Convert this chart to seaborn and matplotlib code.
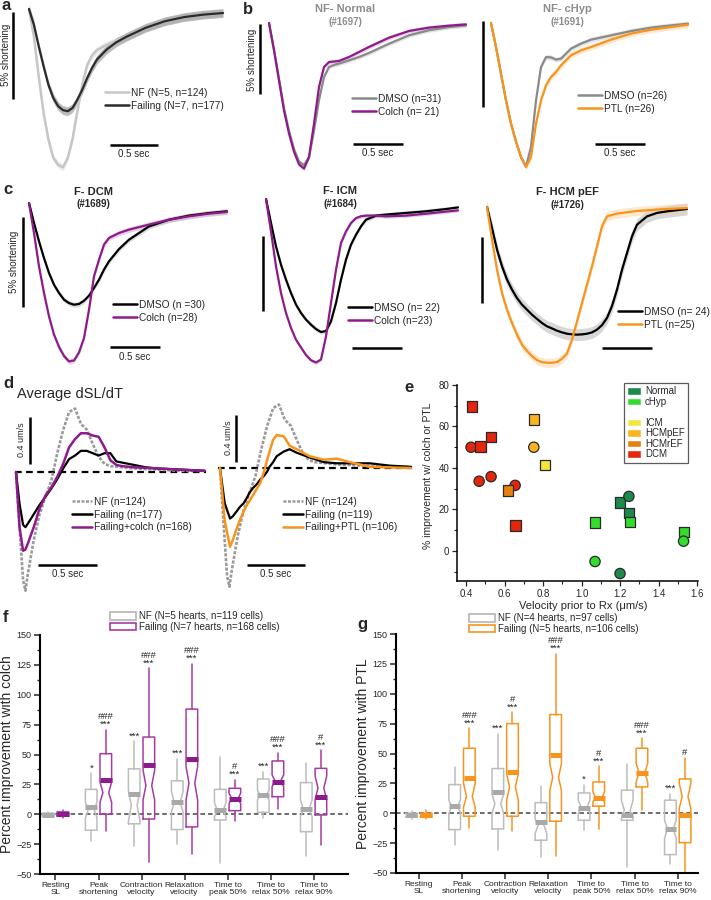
import numpy as np
import pandas as pd
import matplotlib
matplotlib.use("Agg")
import matplotlib.pyplot as plt
from matplotlib.lines import Line2D
from matplotlib.patches import Patch
from matplotlib.ticker import AutoMinorLocator, MultipleLocator
import seaborn as sns

# ---- DATA ----

# a: mean shortening traces (% change vs time in s)
t_a = [0, .05, .1, .15, .2, .25, .3, .35, .4, .45, .5, .55, .6, .65, .7, .8, .9, 1.0, 1.2, 1.4, 1.6, 1.8, 2.0]
a_nf = [0, -1.56, -3.84, -5.93, -7.45, -8.5, -8.9, -9.05, -8.5, -7.4, -5.8, -4.3, -3.2, -2.65, -2.35, -2.05,
        -1.8, -1.6, -1.08, -0.7, -0.46, -0.32, -0.23]
a_fail = [0, -0.89, -2.13, -3.27, -4.33, -5.08, -5.55, -5.78, -5.84, -5.65, -5.17, -4.6, -3.94, -3.37, -2.89,
          -2.32, -1.9, -1.6, -1.08, -0.7, -0.46, -0.32, -0.23]

# b: non-failing hearts
t_b = [0, .05, .1, .15, .2, .25, .3, .35, .4, .45, .5, .55, .6, .65, .7, .8, .9, 1.0, 1.2, 1.4, 1.6, 1.8, 1.97]
b1_dmso = [0, -1.9, -4.0, -6.1, -7.7, -9.0, -9.9, -10.15, -9.6, -7.7, -5.5, -3.86, -3.14, -3.0, -2.9, -2.67,
           -2.43, -2.14, -1.48, -0.88, -0.52, -0.29, -0.17]
b1_colch = [0, -1.95, -4.1, -6.24, -7.9, -9.2, -10.1, -10.4, -9.57, -7.2, -4.57, -3.14, -2.79, -2.75, -2.71,
            -2.43, -2.07, -1.71, -1.05, -0.57, -0.33, -0.19, -0.1]
b2_dmso = [0, -1.4, -2.95, -4.5, -5.85, -6.9, -7.8, -8.35, -7.2, -4.5, -2.56, -1.98, -2.0, -2.13, -2.07, -1.49,
           -1.2, -0.97, -0.72, -0.47, -0.27, -0.14, -0.04]
b2_ptl = [0, -1.4, -2.95, -4.5, -5.85, -6.9, -7.8, -8.37, -7.8, -5.85, -4.5, -3.62, -3.14, -2.85, -2.46, -1.88,
          -1.59, -1.4, -0.97, -0.62, -0.39, -0.23, -0.1]

# c: failing hearts
t_c1 = [0, .05, .1, .15, .2, .25, .3, .35, .4, .45, .5, .55, .6, .65, .7, .75, .8, .9, 1.0, 1.2, 1.4, 1.6, 1.8, 1.98]
c1_dmso = [0, -1.11, -2.13, -3.06, -3.89, -4.54, -5.0, -5.37, -5.56, -5.65, -5.61, -5.43, -5.15, -4.72, -4.26,
           -3.7, -3.24, -2.56, -2.04, -1.3, -0.93, -0.7, -0.56, -0.46]
c1_colch = [0, -1.67, -3.52, -5.0, -6.3, -7.31, -8.0, -8.5, -8.8, -8.75, -8.3, -7.5, -5.93, -4.07, -3.15, -2.31,
            -1.94, -1.67, -1.48, -1.2, -0.93, -0.74, -0.59, -0.5]
t_c2 = [0, .05, .1, .15, .2, .25, .3, .35, .4, .45, .5, .55, .6, .65, .7, .75, .8, .85, .9, .95, 1.0, 1.1, 1.2,
        1.4, 1.6, 1.8, 1.92]
c2_dmso = [0, -1.6, -3.16, -4.38, -5.38, -6.27, -7.04, -7.6, -8.04, -8.38, -8.67, -8.87, -8.8, -8.16, -6.93,
           -5.38, -4.04, -3.04, -2.38, -1.82, -1.38, -1.11, -1.04, -0.93, -0.82, -0.67, -0.56]
c2_colch = [0, -2.16, -4.49, -6.27, -7.6, -8.6, -9.38, -9.9, -10.4, -10.75, -10.9, -10.7, -9.16, -6.93, -4.71,
            -2.93, -2.16, -1.6, -1.27, -1.15, -1.11, -1.1, -1.16, -1.11, -0.98, -0.84, -0.76]
t_c3 = [0, .05, .1, .15, .2, .25, .3, .35, .4, .45, .5, .55, .6, .65, .7, .75, .8, .85, .9, .95, 1.0, 1.05, 1.1,
        1.15, 1.2, 1.25, 1.3, 1.35, 1.4, 1.45, 1.5, 1.6, 1.7, 1.8, 2.0]
c3_dmso = [0, -1.59, -3.23, -4.49, -5.5, -6.26, -6.9, -7.4, -7.78, -8.16, -8.48, -8.79, -9.04, -9.2, -9.37, -9.5,
           -9.6, -9.65, -9.67, -9.65, -9.6, -9.5, -9.29, -8.95, -8.41, -7.5, -6.26, -4.75, -3.48, -2.22, -1.34,
           -0.71, -0.45, -0.33, -0.15]
c3_ptl = [0, -2.47, -4.75, -6.52, -7.78, -8.79, -9.67, -10.43, -10.9, -11.3, -11.6, -11.75, -11.8, -11.8, -11.75,
          -11.5, -11.1, -10.05, -8.66, -7.27, -5.88, -4.49, -2.98, -1.46, -0.71, -0.6, -0.5, -0.45, -0.4, -0.35,
          -0.3, -0.25, -0.2, -0.15, -0.08]

# d: average dSL/dT (um/s)
t_d = [0, .03, .06, .08, .1, .15, .2, .25, .3, .35, .4, .45, .5, .55, .6, .65, .7, .75, .8, .85, .9, 1.0, 1.1,
       1.2, 1.4, 1.6]
d_nf = [0, -0.47, -0.92, -1.01, -0.87, -0.58, -0.36, -0.21, -0.07, 0.16, 0.36, 0.51, 0.54, 0.41, 0.36, 0.24,
        0.13, 0.07, 0.05, 0.045, 0.04, 0.03, 0.025, 0.02, 0.01, 0.01]
d_fail = [0, -0.27, -0.45, -0.47, -0.44, -0.36, -0.28, -0.21, -0.14, -0.06, 0.03, 0.11, 0.14, 0.18, 0.18, 0.16,
          0.14, 0.16, 0.16, 0.09, 0.08, 0.06, 0.04, 0.03, 0.02, 0.01]
d_colch = [0, -0.47, -0.67, -0.66, -0.61, -0.47, -0.31, -0.2, -0.13, -0.04, 0.07, 0.21, 0.28, 0.33, 0.33, 0.31,
           0.30, 0.21, 0.1, 0.06, 0.05, 0.04, 0.035, 0.03, 0.02, 0.01]
t_d2 = [0, .04, .085, .11, .14, .17, .2, .23, .25, .28, .31, .34, .37, .4, .42, .45, .48, .54, .59, .65, .76,
        .88, .99, 1.1, 1.27, 1.44, 1.62]
d2_fail = [0, -0.3, -0.43, -0.41, -0.37, -0.33, -0.3, -0.25, -0.21, -0.17, -0.14, -0.1, -0.07, -0.03, 0.01, 0.05,
           0.1, 0.14, 0.16, 0.13, 0.09, 0.05, 0.04, 0.04, 0.04, 0.02, 0.01]
d2_ptl = [0, -0.45, -0.67, -0.61, -0.52, -0.44, -0.37, -0.31, -0.28, -0.23, -0.18, -0.13, -0.04, 0.07, 0.14,
          0.24, 0.28, 0.27, 0.19, 0.16, 0.1, 0.07, 0.08, 0.05, 0.01, 0.005, 0]

# e: improvement vs baseline velocity
e_vel = [0.43, 0.426, 0.475, 0.53, 0.468, 0.53, 0.655, 0.657, 0.617, 0.752, 0.752, 0.81, 1.07, 1.07, 1.2,
         1.246, 1.248, 1.25, 1.2, 1.532, 1.53]
e_imp = [69.6, 50, 50.3, 55, 33.6, 35.8, 31.6, 12.2, 29.2, 63.3, 50, 41.3, 13.7, -5.1, 23.3, 26.3, 18.2, 13.8,
         -10.9, 9.2, 4.7]
e_group = ["DCM", "DCM", "DCM", "DCM", "DCM", "DCM", "DCM", "DCM", "HCMrEF", "HCMpEF", "HCMpEF", "ICM", "cHyp",
           "cHyp", "Normal", "Normal", "Normal", "cHyp", "Normal", "cHyp", "cHyp"]
e_shape = ["s", "o", "s", "s", "o", "o", "o", "s", "s", "s", "o", "s", "s", "o", "s", "o", "s", "s", "o", "s", "o"]
e_groups = ["Normal", "cHyp", "ICM", "HCMpEF", "HCMrEF", "DCM"]
e_colors = ["#1d8a4c", "#33dd2c", "#f2e63e", "#f9b41f", "#e8800e", "#e5260d"]

# f/g: box plots (percent improvement)
cats = ["Resting\nSL", "Peak\nshortening", "Contraction\nvelocity", "Relaxation\nvelocity",
        "Time to\npeak 50%", "Time to\nrelax 50%", "Time to\nrelax 90%"]

f_nf_lo = [-2.5, -22.6, -26.7, -25, -40.5, -3.4, -34.6]
f_nf_q1 = [-1.5, -13.4, -8, -12.8, -4.8, 1.6, -14.6]
f_nf_med = [-0.5, 4, 7.5, 10, 3, 16, 4]
f_nf_cilo = [-1, -3, -6, 2, -2, 12, -2]
f_nf_cihi = [0, 10, 20, 19, 10, 20, 12]
f_nf_q3 = [1, 20.8, 38, 28, 20.8, 29.5, 26.5]
f_nf_hi = [1.5, 34.5, 61, 46.5, 47.6, 35.7, 42.6]
f_nf_mean = [-0.5, 6.1, 17.3, 10.3, 3.6, 15.8, 4.4]

f_f_lo = [-3, -14, -40, -33.4, -5.4, 4.1, -25.7]
f_f_q1 = [-1.5, 0, -4, -10.6, 3, 14.7, -0.6]
f_f_med = [0.5, 18, 24, 26, 13, 28, 22]
f_f_cilo = [0, 10, 12, 12, 9, 23, 12]
f_f_cihi = [1, 27, 37, 40, 17.5, 33, 32]
f_f_q3 = [2, 50.7, 64.6, 88, 21.7, 44.6, 38.4]
f_f_hi = [3.5, 70.8, 122, 126, 29, 51.6, 53.7]
f_f_mean = [0.5, 28.4, 41, 46.5, 12.8, 27.3, 14.2]

f_nf_sig = ["", "*", "***", "***", "", "***", ""]
f_f_sig = ["", "***", "***", "***", "***", "***", "***"]
f_f_sig2 = ["", "###", "###", "###", "#", "###", "#"]

g_nf_lo = [-5, -26.8, -31, -37, -14.2, -45, -42.7]
g_nf_q1 = [-3, -13.7, -13.1, -22.6, -5.9, -5.9, -34.6]
g_nf_med = [-1.5, 6, 8, -10, 5, 2.5, -13]
g_nf_cilo = [-2.5, 0, 0, -17, 0, -4.5, -21]
g_nf_cihi = [-0.5, 11, 16, -4.5, 11, 10.9, -5.9]
g_nf_q3 = [0, 24, 37.4, 8.9, 17, 19.3, 10.9]
g_nf_hi = [2, 38.8, 66.7, 22.9, 24, 41.6, 16.5]
g_nf_mean = [-1.5, 6.1, 17.6, -7, 4.7, -1.7, -13.4]

g_f_lo = [-5, -12.6, -14.8, -36, -13.1, 3, -49]
g_f_q1 = [-3, -2.5, -2.5, -6.7, 5.9, 22, -24.6]
g_f_med = [-1.5, 14, 22, 30, 12.6, 34, 14]
g_f_cilo = [-2.5, 5, 11, 19, 9.5, 26, 4]
g_f_cihi = [-0.5, 25, 33, 41.6, 17.9, 42, 25]
g_f_q3 = [0, 54.4, 75, 82.6, 26.2, 54.4, 28.7]
g_f_hi = [3, 71.4, 84.8, 133.6, 39.6, 63, 46.3]
g_f_mean = [-1.5, 29.3, 34.3, 48.5, 12.6, 33.5, -1.7]

g_nf_sig = ["", "", "***", "", "*", "", "***"]
g_f_sig = ["", "***", "***", "***", "***", "***", ""]
g_f_sig2 = ["", "###", "#", "###", "#", "###", "#"]

# ---- STYLE ----
sns.set_theme(style="white")
plt.rcParams["font.family"] = ["Liberation Sans", "DejaVu Sans"]

PURPLE = "#8e1b8b"
ORANGE = "#f7941d"
GRAY = "#8a8a8a"
W, H = 711, 900

fig = plt.figure(figsize=(W / 100, H / 100), dpi=100)


def rect(x0, y0, x1, y1):
    return [x0 / W, 1 - y1 / H, (x1 - x0) / W, (y1 - y0) / H]


def ftext(x, y, s, **kw):
    kw.setdefault("ha", "center")
    kw.setdefault("va", "center")
    fig.text(x / W, 1 - y / H, s, **kw)


def fline(xs, ys, lw=1.8, color="black", **kw):
    fig.add_artist(Line2D([x / W for x in xs], [1 - y / H for y in ys], lw=lw, color=color,
                          solid_capstyle="butt", **kw))


def trace_ax(x0, y0, x1, y1, px0, py0, sx, sy):
    ax = fig.add_axes(rect(x0, y0, x1, y1))
    ax.set_xlim((x0 - px0) / sx, (x1 - px0) / sx)
    ax.set_ylim((py0 - y1) / sy, (py0 - y0) / sy)
    ax.axis("off")
    return ax


def trace(ax, t, v, color, sem=0.0, band=None, lw=1.6, ls="-"):
    v = np.array(v)
    if sem > 0:
        ax.fill_between(t, v - sem, v + sem, color=band or color, lw=0, alpha=0.45)
    sns.lineplot(x=t, y=v, ax=ax, color=color, lw=lw, linestyle=ls, sort=False, errorbar=None, legend=False)


def legend(ax, items, x, y, fs=7.3, hl=2.4):
    hs = [Line2D([], [], color=c, lw=lw, ls=ls) for c, lw, ls, _ in items]
    ax.legend(hs, [i[3] for i in items], loc="upper left", bbox_to_anchor=(x / W, 1 - (y - 6) / H),
              bbox_transform=fig.transFigure, frameon=False, fontsize=fs, handlelength=hl,
              handletextpad=0.15, labelspacing=0.25, borderpad=0, borderaxespad=0)


# ---- a ----
ax = trace_ax(5, 3, 230, 175, 29, 9, 97, 17.5)
trace(ax, t_a, a_nf, "#c6c6c6", 0.2, "#d8d8d8", lw=1.8)
trace(ax, t_a, a_fail, "#2b2b2b", 0.25, "#6c6c6c", lw=1.6)
legend(ax, [("#c6c6c6", 1.8, "-", "NF (N=5, n=124)"), ("#2b2b2b", 1.8, "-", "Failing (N=7, n=177)")], 105, 94)
fline([12.5, 12.5], [12, 99])
ftext(6, 55, "5% shortening", rotation=90, fontsize=7)
fline([110, 158], [145, 145])
ftext(134, 154, "0.5 sec", fontsize=7)
ftext(1, 6, "a", fontsize=12, fontweight="bold", ha="left")

# ---- b ----
ax = trace_ax(250, 3, 470, 175, 269, 23, 100, 14)
trace(ax, t_b, b1_dmso, GRAY, 0.15, "#c8c8c8")
trace(ax, t_b, b1_colch, PURPLE, 0.15, "#c9a0c8")
legend(ax, [(GRAY, 1.8, "-", "DMSO (n=31)"), (PURPLE, 1.8, "-", "Colch (n= 21)")], 352, 100)
fline([260, 260], [24, 94])
ftext(252, 60, "5% shortening", rotation=90, fontsize=7)
fline([353, 403], [144, 144])
ftext(378, 153, "0.5 sec", fontsize=7)
ftext(243, 9, "b", fontsize=12, fontweight="bold", ha="left")
ftext(345, 9, "NF- Normal", fontsize=8, fontweight="bold", color="#8c8c8c")
ftext(345, 22, "(#1697)", fontsize=7, fontweight="bold", color="#8c8c8c")

ax = trace_ax(475, 3, 708, 175, 491, 23, 100, 17.2)
trace(ax, t_b, b2_dmso, GRAY, 0.15, "#c8c8c8")
trace(ax, t_b, b2_ptl, ORANGE, 0.18, "#fbcf9c")
legend(ax, [(GRAY, 1.8, "-", "DMSO (n=26)"), (ORANGE, 1.8, "-", "PTL (n=26)")], 578, 97)
fline([483, 483], [21, 107])
fline([595, 645], [144, 144])
ftext(620, 153, "0.5 sec", fontsize=7)
ftext(567, 9, "NF- cHyp", fontsize=8, fontweight="bold", color="#8c8c8c")
ftext(567, 22, "(#1691)", fontsize=7, fontweight="bold", color="#8c8c8c")

# ---- c ----
ax = trace_ax(5, 180, 235, 372, 29, 203, 100, 18)
trace(ax, t_c1, c1_dmso, "black", 0.15, "#b8b8b8")
trace(ax, t_c1, c1_colch, PURPLE, 0.15, "#c9a0c8")
legend(ax, [("black", 1.8, "-", "DMSO (n =30)"), (PURPLE, 1.8, "-", "Colch (n=28)")], 113, 306)
fline([23, 23], [217, 307])
ftext(14, 262, "5% shortening", rotation=90, fontsize=7)
fline([110, 160], [347, 347])
ftext(135, 357, "0.5 sec", fontsize=7)
ftext(3, 190, "c", fontsize=12, fontweight="bold", ha="left")
ftext(93, 192, "F- DCM", fontsize=8, fontweight="bold")
ftext(93, 204, "(#1689)", fontsize=7, fontweight="bold")

ax = trace_ax(245, 180, 470, 372, 266, 199, 100, 15)
trace(ax, t_c2, c2_dmso, "black", 0.15, "#b8b8b8")
trace(ax, t_c2, c2_colch, PURPLE, 0.12, "#c9a0c8")
legend(ax, [("black", 1.8, "-", "DMSO (n= 22)"), (PURPLE, 1.8, "-", "Colch (n=23)")], 348, 309)
fline([263, 263], [236, 311])
fline([352, 402], [348, 348])
ftext(340, 191, "F- ICM", fontsize=8, fontweight="bold")
ftext(340, 204, "(#1684)", fontsize=7, fontweight="bold")

ax = trace_ax(475, 180, 710, 372, 487, 207, 100, 13.2)
trace(ax, t_c3, c3_dmso, "black", 0.45, "#a8a8a8")
trace(ax, t_c3, c3_ptl, ORANGE, 0.35, "#fbcf9c")
legend(ax, [("black", 1.8, "-", "DMSO (n= 24)"), (ORANGE, 1.8, "-", "PTL (n=25)")], 618, 313)
fline([482, 482], [237, 303])
fline([602, 652], [348, 348])
ftext(567, 192, "F- HCM pEF", fontsize=8, fontweight="bold")
ftext(567, 205, "(#1726)", fontsize=7, fontweight="bold")

# ---- d ----
NF_LS = (0, (1.2, 0.6))
ax = trace_ax(5, 395, 215, 600, 16, 472, 118, 117.5)
ax.plot([-0.01, 1.61], [0, 0], color="black", lw=1.6, ls=(0, (3, 2)))
trace(ax, t_d, d_nf, "#9a9a9a", lw=1.9, ls=NF_LS)
trace(ax, t_d, d_fail, "black", lw=1.6)
trace(ax, t_d, d_colch, PURPLE, lw=1.8)
legend(ax, [("#9a9a9a", 1.8, NF_LS, "NF (n=124)"), ("black", 1.8, "-", "Failing (n=177)"),
            (PURPLE, 1.8, "-", "Failing+colch (n=168)")], 72, 503, hl=2.0)
fline([30, 30], [417, 464])
ftext(22, 440, "0.4 um/s", rotation=90, fontsize=6.5)
fline([38, 97], [565, 565])
ftext(68, 574, "0.5 sec", fontsize=7)
ftext(3, 383, "d", fontsize=12, fontweight="bold", ha="left")
ftext(17, 394, "Average dSL/dT", fontsize=10.5, ha="left")

ax = trace_ax(215, 395, 420, 600, 220, 468, 118, 117.5)
ax.plot([-0.02, 1.63], [0, 0], color="black", lw=1.6, ls=(0, (3, 2)))
trace(ax, t_d, d_nf, "#9a9a9a", lw=1.9, ls=NF_LS)
trace(ax, t_d2, d2_fail, "black", lw=1.6)
trace(ax, t_d2, d2_ptl, ORANGE, lw=1.8)
legend(ax, [("#9a9a9a", 1.8, NF_LS, "NF (n=124)"), ("black", 1.8, "-", "Failing (n=119)"),
            (ORANGE, 1.8, "-", "Failing+PTL (n=106)")], 283, 503, hl=2.0)
fline([236, 236], [415, 462])
ftext(228, 438, "0.4 um/s", rotation=90, fontsize=6.5)
fline([247, 305], [565, 565])
ftext(276, 574, "0.5 sec", fontsize=7)

# ---- e ----
ax = fig.add_axes(rect(457, 385, 698, 581))
df_e = pd.DataFrame({"vel": e_vel, "imp": e_imp, "group": e_group, "shape": e_shape})
sns.scatterplot(data=df_e, x="vel", y="imp", hue="group", style="shape", hue_order=e_groups,
                palette=dict(zip(e_groups, e_colors)), markers={"s": "s", "o": "o"}, s=55,
                edgecolor="#2a2a2a", linewidth=0.9, legend=False, ax=ax, zorder=3)
ax.set_xlim(0.353, 1.605)
ax.set_ylim(-14.5, 80)
ax.set_xticks([0.4, 0.6, 0.8, 1.0, 1.2, 1.4, 1.6])
ax.set_yticks([0, 20, 40, 60, 80])
ax.xaxis.set_minor_locator(AutoMinorLocator(2))
ax.yaxis.set_minor_locator(AutoMinorLocator(2))
ax.tick_params(which="both", direction="out", left=True, bottom=True, labelsize=7, pad=2)
ax.tick_params(which="major", length=3.5, width=0.9)
ax.tick_params(which="minor", length=2, width=0.8)
ax.set_xlabel("")
ax.set_ylabel("")
sns.despine(ax=ax)
for s in ["left", "bottom"]:
    ax.spines[s].set_linewidth(1.1)
    ax.spines[s].set_color("black")
hs = [Patch(facecolor=e_colors[0]), Patch(facecolor=e_colors[1]), Patch(alpha=0)] + \
     [Patch(facecolor=c) for c in e_colors[2:]]
labs = e_groups[:2] + [""] + e_groups[2:]
ax.legend(hs, labs, loc="upper right", bbox_to_anchor=(688 / W, 1 - 383 / H), bbox_transform=fig.transFigure,
          fontsize=7, frameon=True, fancybox=False, edgecolor="#333", handlelength=1.4, handleheight=0.85,
          labelspacing=0.05, handletextpad=0.4, borderpad=0.35, borderaxespad=0)
ax.get_legend().get_frame().set_linewidth(0.9)
ftext(583, 606, "Velocity prior to Rx (μm/s)", fontsize=8)
ftext(428, 476, "% improvement w/ colch or PTL", rotation=90, fontsize=7.5)
ftext(404, 388, "e", fontsize=12, fontweight="bold", ha="left")

# ---- f / g ----
BW = 0.27
OFF = 0.17


def boxes(ax, offset, lo, q1, med, cilo, cihi, q3, hi, mean, color, bar_color):
    pos = [i + offset for i in range(len(cats))]
    stats = [dict(whislo=a, q1=b, med=c, cilo=d, cihi=e, q3=f, whishi=g, fliers=[])
             for a, b, c, d, e, f, g in zip(lo, q1, med, cilo, cihi, q3, hi)]
    ax.bxp(stats, positions=pos, widths=BW, shownotches=True, showcaps=False, showfliers=False,
           manage_ticks=False, boxprops=dict(color=color, lw=1.1), whiskerprops=dict(color=color, lw=1.1),
           medianprops=dict(lw=0))
    ax.hlines(mean, [p - BW / 2 for p in pos], [p + BW / 2 for p in pos], color=bar_color, lw=3.6, zorder=3)
    return pos


def sig(ax, pos, hi, s1, s2=None):
    # significance marks stacked above the whisker ("###" over "***")
    for i, p in enumerate(pos):
        lines = []
        if s2 is not None and s2[i]:
            lines.append(s2[i])
        if s1[i]:
            lines.append(s1[i])
        if lines:
            ax.text(p, hi[i] + 0.5, "\n".join(lines), ha="center", va="bottom", fontsize=6.8, linespacing=0.8)


def box_panel(r, xlim, col, bar_col, nf, fl, nf_sig, f_sig, f_sig2, ylabel, leg_labels, leg_xy):
    ax = fig.add_axes(rect(*r))
    ax.axhline(0, color="#444", lw=1.1, ls=(0, (3, 2)), zorder=1)
    p_nf = boxes(ax, -OFF, *nf, "#bcbcbc", "#a9a9a9")
    p_f = boxes(ax, OFF, *fl, col, bar_col)
    sig(ax, p_nf, nf[6], nf_sig)
    sig(ax, p_f, fl[6], f_sig, f_sig2)
    ax.set_xlim(*xlim)
    ax.set_ylim(-50, 150)
    ax.yaxis.set_major_locator(MultipleLocator(25))
    ax.yaxis.set_minor_locator(MultipleLocator(12.5))
    ax.set_xticks(range(len(cats)))
    ax.set_xticklabels(cats, fontsize=6, linespacing=1.0)
    ax.tick_params(which="both", direction="out", left=True, bottom=True, labelsize=6.5, pad=2)
    ax.tick_params(axis="x", labelsize=6)
    ax.tick_params(which="major", length=4, width=1.1)
    ax.tick_params(which="minor", length=2.5, width=1.0)
    sns.despine(ax=ax)
    for s in ["left", "bottom"]:
        ax.spines[s].set_linewidth(1.5)
        ax.spines[s].set_color("black")
    ax.set_ylabel(ylabel, fontsize=10, labelpad=2)
    hs = [Patch(facecolor="white", edgecolor="#b5b5b5", lw=1.2), Patch(facecolor="white", edgecolor=col, lw=1.2)]
    ax.legend(hs, leg_labels, loc="upper left", bbox_to_anchor=(leg_xy[0] / W, 1 - leg_xy[1] / H),
              bbox_transform=fig.transFigure, frameon=False, fontsize=7, handlelength=2.7, handleheight=0.85,
              handletextpad=0.3, labelspacing=0.1, borderpad=0, borderaxespad=0)
    return ax


f_nf = [f_nf_lo, f_nf_q1, f_nf_med, f_nf_cilo, f_nf_cihi, f_nf_q3, f_nf_hi, f_nf_mean]
f_fl = [f_f_lo, f_f_q1, f_f_med, f_f_cilo, f_f_cihi, f_f_q3, f_f_hi, f_f_mean]
box_panel((40, 635, 348, 874), (-0.36, 6.8), "#a53ca2", PURPLE, f_nf, f_fl, f_nf_sig, f_f_sig, f_f_sig2,
          "Percent improvement with colch",
          ["NF (N=5 hearts, n=119 cells)", "Failing (N=7 hearts, n=168 cells)"], (110, 611))
ftext(3, 617, "f", fontsize=12, fontweight="bold", ha="left")

g_nf = [g_nf_lo, g_nf_q1, g_nf_med, g_nf_cilo, g_nf_cihi, g_nf_q3, g_nf_hi, g_nf_mean]
g_fl = [g_f_lo, g_f_q1, g_f_med, g_f_cilo, g_f_cihi, g_f_q3, g_f_hi, g_f_mean]
box_panel((396, 634, 698, 873), (-0.53, 6.47), ORANGE, ORANGE, g_nf, g_fl, g_nf_sig, g_f_sig, g_f_sig2,
          "Percent improvement with PTL",
          ["NF (N=4 hearts, n=97 cells)", "Failing (N=5 hearts, n=106 cells)"], (469, 613))
ftext(357, 625, "g", fontsize=12, fontweight="bold", ha="left")

plt.savefig("out.png", dpi=100)
